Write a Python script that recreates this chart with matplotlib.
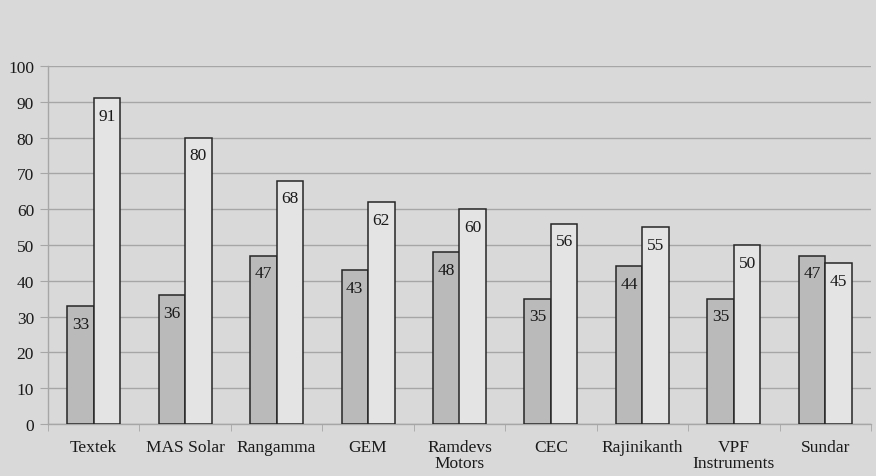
import matplotlib
matplotlib.use("Agg")
import matplotlib.pyplot as plt
import numpy as np

categories = ["Textek", "MAS Solar", "Rangamma", "GEM", "Ramdevs\nMotors",
              "CEC", "Rajinikanth", "VPF\nInstruments", "Sundar"]
series_a = [33, 36, 47, 43, 48, 35, 44, 35, 47]
series_b = [91, 80, 68, 62, 60, 56, 55, 50, 45]
y_ticks = list(range(0, 101, 10))

plt.rcParams["font.family"] = ["Liberation Serif", "DejaVu Serif"]

bg = "#d9d9d9"
fs = 12.5
fig = plt.figure(figsize=(8.76, 4.77), dpi=100, facecolor=bg)
W, H = 876, 477
ax = fig.add_axes([48 / W, (H - 425) / H, (871 - 48) / W, (425 - 67) / H])
ax.set_facecolor(bg)

x = np.arange(len(categories))
bw = 0.29
bars_a = ax.bar(x - bw / 2, series_a, bw, color="#bababa", edgecolor="#262626", linewidth=1.1, zorder=3)
bars_b = ax.bar(x + bw / 2, series_b, bw, color="#e4e4e4", edgecolor="#262626", linewidth=1.1, zorder=3)

for bars, vals in ((bars_a, series_a), (bars_b, series_b)):
    for b, v in zip(bars, vals):
        ax.annotate(str(v), (b.get_x() + b.get_width() / 2, v), xytext=(0, -7),
                    textcoords="offset points", ha="center", va="top",
                    fontsize=fs, color="#1a1a1a", zorder=4)

ax.set_xlim(-0.5, len(categories) - 0.5)
ax.set_ylim(0, 100)
ax.set_yticks(y_ticks)
ax.tick_params(axis="y", labelsize=fs, length=6, color="#a6a6a6", pad=4, labelcolor="#1a1a1a")
ax.grid(axis="y", color="#a6a6a6", linewidth=1.0, zorder=0)

ax.set_xticks(x)
ax.set_xticklabels(categories, fontsize=fs, color="#1a1a1a", linespacing=1.0)
ax.tick_params(axis="x", length=0, pad=11)
ax.set_xticks(np.arange(-0.5, len(categories)), minor=True)
ax.tick_params(axis="x", which="minor", length=5, color="#a6a6a6")

for s in ("top", "right"):
    ax.spines[s].set_visible(False)
for s in ("left", "bottom"):
    ax.spines[s].set_color("#a6a6a6")
    ax.spines[s].set_linewidth(1.0)

fig.savefig("out.png", dpi=100, facecolor=bg)
